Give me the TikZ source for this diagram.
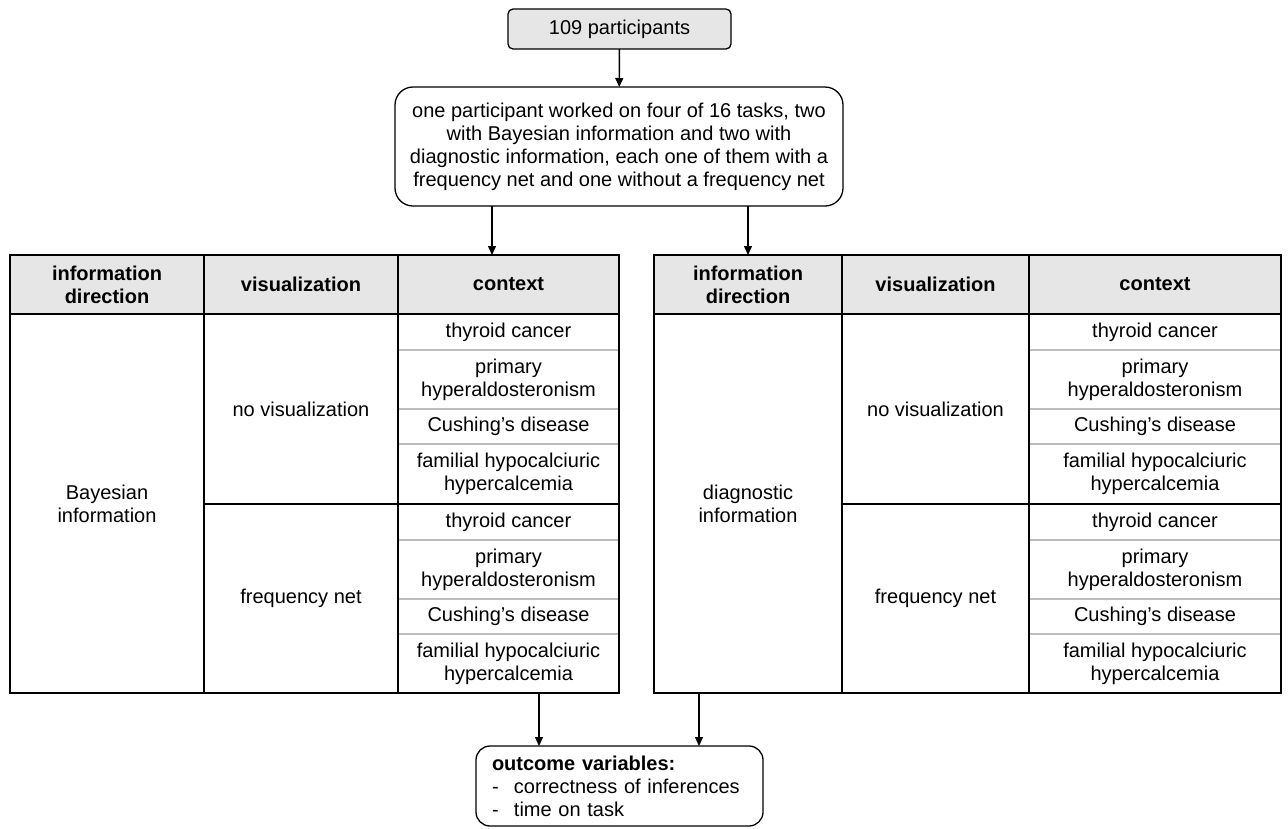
\documentclass[tikz,border=0pt]{standalone}
\usepackage{fontspec}
\setmainfont{Liberation Sans}
\usetikzlibrary{arrows.meta,positioning,calc}
\definecolor{shade}{HTML}{E6E6E6}
\definecolor{rule}{HTML}{BDBDBD}
\tikzset{
  box/.style={draw, rectangle, line width=1.3pt, align=center, inner sep=0pt, outer sep=0pt, font=\fontsize{20}{23}\selectfont},
  cell/.style={box, anchor=north west},
  head/.style={cell, fill=shade, font=\fontsize{20}{23}\selectfont\bfseries},
  ctx/.style={cell, draw=rule, line width=1.5pt},
  note/.style={box, rounded corners=18pt},
  arr/.style={-{Triangle[length=9pt, width=8pt]}, line width=1.4pt}
}

\begin{document}
\begin{tikzpicture}[x=1pt, y=-1pt]
\useasboundingbox (0,0) rectangle (1288,828);
\node[note, fill=shade, rounded corners=5pt, minimum width=223pt, minimum height=40pt] (part) at (619.5,29) {109 participants};
\node[note, minimum width=448pt, minimum height=119pt] (plan) at (619,146.5) {one participant worked on four of 16 tasks, two\\with Bayesian information and two with\\diagnostic information, each one of them with a\\frequency net and one without a frequency net};
\foreach \tb/\xa/\xb/\xc/\xd/\dir in {l/10/204/398/619/Bayesian\\information, r/654/842/1029/1281/diagnostic\\information} {
  \foreach \i/\y/\h/\t in {1/314/36/thyroid cancer, 2/350/59/primary\\hyperaldosteronism, 3/409/35/Cushing’s disease, 4/444/60/familial hypocalciuric\\hypercalcemia, 5/504/36/thyroid cancer, 6/540/59/primary\\hyperaldosteronism, 7/599/35/Cushing’s disease, 8/634/59/familial hypocalciuric\\hypercalcemia}
    \node[ctx, minimum width={(\xd-\xc)*1pt}, minimum height=\h pt] (\tb-c\i) at (\xc,\y) {\t};
  \draw[line width=1.3pt] (\tb-c1.north west) rectangle (\tb-c4.south east);
  \draw[line width=1.3pt] (\tb-c5.north west) rectangle (\tb-c8.south east);
  \node[head, minimum width={(\xb-\xa)*1pt}, minimum height=59pt] (\tb-h1) at (\xa,255) {information\\direction};
  \node[head, minimum width={(\xc-\xb)*1pt}, minimum height=59pt] (\tb-h2) at (\xb,255) {visualization};
  \node[head, minimum width={(\xd-\xc)*1pt}, minimum height=59pt] (\tb-h3) at (\xc,255) {context};
  \node[cell, minimum width={(\xb-\xa)*1pt}, minimum height=379pt] (\tb-dir) at (\xa,314) {\dir};
  \node[cell, minimum width={(\xc-\xb)*1pt}, minimum height=190pt] (\tb-v1) at (\xb,314) {no visualization};
  \node[cell, minimum width={(\xc-\xb)*1pt}, minimum height=189pt] (\tb-v2) at (\xb,504) {frequency net};
}
\node[note, rounded corners=14pt, minimum width=287pt, minimum height=80pt, text width=255pt, inner xsep=16pt, align=left, anchor=north] (out) at (619.5,746) {\textbf{outcome variables:}\\\makebox[22pt][l]{-}correctness of inferences\\\makebox[22pt][l]{-}time on task};
\coordinate (lin) at (492,255);
\coordinate (rin) at (748,255);
\coordinate (lout) at (539,693);
\coordinate (rout) at (699,693);
\draw[arr] (part) -- (plan);
\foreach \p in {lin,rin} \draw[arr] (plan.south -| \p) -- (\p);
\foreach \p in {lout,rout} \draw[arr] (\p) -- (\p |- out.north);
\end{tikzpicture}
\end{document}
